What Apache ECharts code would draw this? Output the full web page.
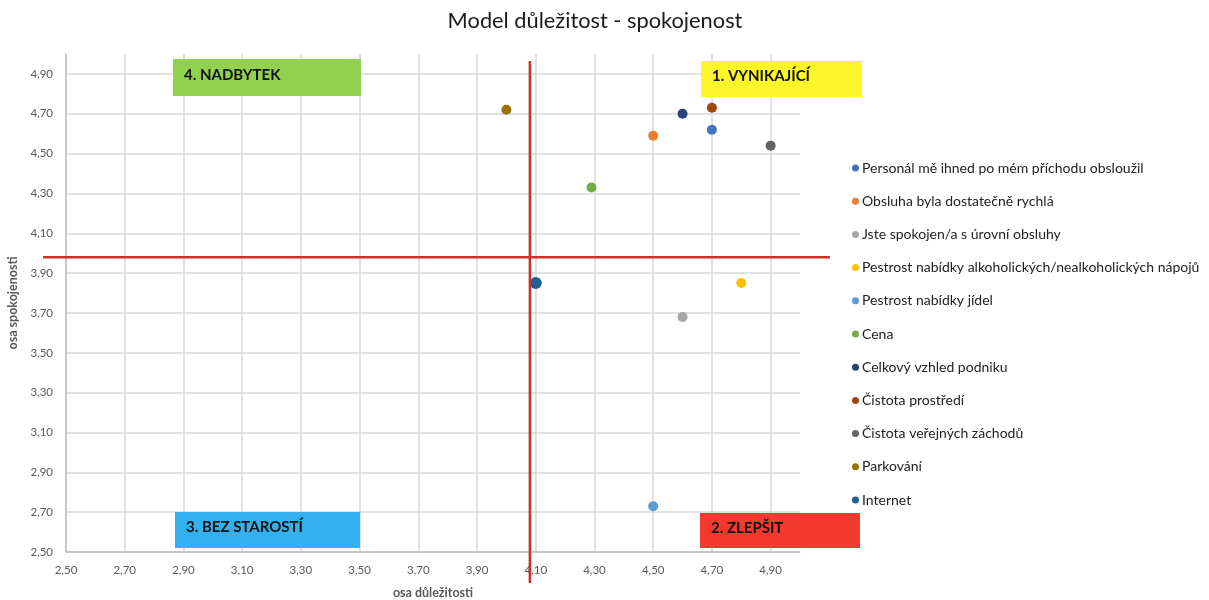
<!DOCTYPE html>
<html><head><meta charset="utf-8">
<script src="https://cdn.jsdelivr.net/npm/echarts@6/dist/echarts.min.js"></script>
<style>html,body{margin:0;padding:0;background:#fff}#c{width:1209px;height:600px}</style>
</head><body><div id="c"></div>
<script>
const categories = [
  'Personál mě ihned po mém příchodu obsloužil',
  'Obsluha byla dostatečně rychlá',
  'Jste spokojen/a s úrovní obsluhy',
  'Pestrost nabídky alkoholických/nealkoholických nápojů',
  'Pestrost nabídky jídel',
  'Cena',
  'Celkový vzhled podniku',
  'Čistota prostředí',
  'Čistota veřejných záchodů',
  'Parkování',
  'Internet'
];
const importance = [4.70, 4.50, 4.60, 4.80, 4.50, 4.29, 4.60, 4.70, 4.90, 4.00, 4.10];
const satisfaction = [4.62, 4.59, 3.68, 3.85, 2.73, 4.33, 4.70, 4.73, 4.54, 4.72, 3.85];
const colors = ['#4472C4','#ED7D31','#A5A5A5','#FFC000','#5B9BD5','#70AD47','#264478','#9E480E','#636363','#997300','#255E91'];
const markerSizes = [10,10,10,10,10,10,10,10,10,10,12];
const quadrantX = 4.08;
const quadrantY = 3.98;
const quadrantLabels = ['4. NADBYTEK','1. VYNIKAJÍCÍ','3. BEZ STAROSTÍ','2. ZLEPŠIT'];

const FONT = 'Lato, "Open Sans", sans-serif';
const chart = echarts.init(document.getElementById('c'), null, {renderer:'canvas'});
const fmt = v => v.toFixed(2).replace('.', ',');

const series = categories.map((name, i) => ({
  name: name,
  type: 'scatter',
  symbolSize: markerSizes[i],
  itemStyle: {color: colors[i], opacity: 1},
  data: [[importance[i], satisfaction[i]]]
}));

chart.setOption({
  animation: false,
  title: {
    text: 'Model důležitost - spokojenost',
    left: 590, top: 5, textAlign: 'center',
    textStyle: {fontFamily: FONT, fontSize: 21.8, fontWeight: 'normal', color: '#1a1a1a'}
  },
  grid: {left: 66, right: 409, top: 54, bottom: 48, containLabel: false, outerBoundsMode: 'none'},
  xAxis: {
    type: 'value', min: 2.5, max: 5.0, interval: 0.2,
    name: 'osa důležitosti', nameLocation: 'middle', nameGap: 34,
    nameTextStyle: {fontFamily: FONT, fontSize: 12.5, fontWeight: 'bold', color: '#595959'},
    axisLine: {show: true, lineStyle: {color: '#bfbfbf', width: 1.5}},
    axisTick: {show: false},
    axisLabel: {fontFamily: FONT, fontSize: 11.5, color: '#595959', margin: 12,
      formatter: v => (v > 4.95 ? '' : fmt(v))},
    splitLine: {show: true, showMaxLine: false, lineStyle: {color: '#d9d9d9', width: 1.5}}
  },
  yAxis: {
    type: 'value', min: 2.5, max: 5.0, interval: 0.2,
    name: 'osa spokojenosti', nameLocation: 'middle', nameGap: 45, nameRotate: 90,
    nameTextStyle: {fontFamily: FONT, fontSize: 12.5, fontWeight: 'bold', color: '#595959'},
    axisLine: {show: true, lineStyle: {color: '#bfbfbf', width: 1.5}},
    axisTick: {show: false},
    axisLabel: {fontFamily: FONT, fontSize: 11.5, color: '#595959', margin: 13,
      formatter: v => (v > 4.95 ? '' : fmt(v))},
    splitLine: {show: true, showMaxLine: false, lineStyle: {color: '#d9d9d9', width: 1.5}}
  },
  legend: {
    orient: 'vertical', left: 852, top: 160,
    icon: 'circle', itemWidth: 7, itemHeight: 7, itemGap: 17.2, padding: 0,
    textStyle: {fontFamily: FONT, fontSize: 14, color: '#222', lineHeight: 16, padding: [0,0,0,-2]},
    data: categories
  },
  series: series
});

function addOverlay(){
  const pTop = chart.convertToPixel({gridIndex:0}, [quadrantX, 5.0]);
  const pBot = chart.convertToPixel({gridIndex:0}, [quadrantX, 2.5]);
  const pL = chart.convertToPixel({gridIndex:0}, [2.5, quadrantY]);
  const pR = chart.convertToPixel({gridIndex:0}, [5.0, quadrantY]);
  const red = '#C8322B';
  const box = (x,y,w,h,fill,text) => ({
    type:'group', left:x, top:y, z:50,
    children:[
      {type:'rect', shape:{x:0,y:0,width:w,height:h}, style:{fill:fill}},
      {type:'text', left:11, top:h/2-10, style:{text:text, fill:'#111', font:'bold 15px '+FONT}}
    ]
  });
  chart.setOption({graphic: [
    {type:'line', z:40, shape:{x1:pTop[0], y1:pTop[1]+7, x2:pBot[0], y2:pBot[1]+31}, style:{stroke:red, lineWidth:2.5}},
    {type:'line', z:40, shape:{x1:pL[0]-23, y1:pL[1], x2:pR[0]+30, y2:pR[1]}, style:{stroke:red, lineWidth:2.5}},
    box(173,59,188,37,'#92D050',quadrantLabels[0]),
    box(701,61,161,36,'#FDF628',quadrantLabels[1]),
    box(175,512,185,36,'#35B0EE',quadrantLabels[2]),
    box(700,513,160,35,'#F23B2E',quadrantLabels[3])
  ]});
}
addOverlay();
</script></body></html>
